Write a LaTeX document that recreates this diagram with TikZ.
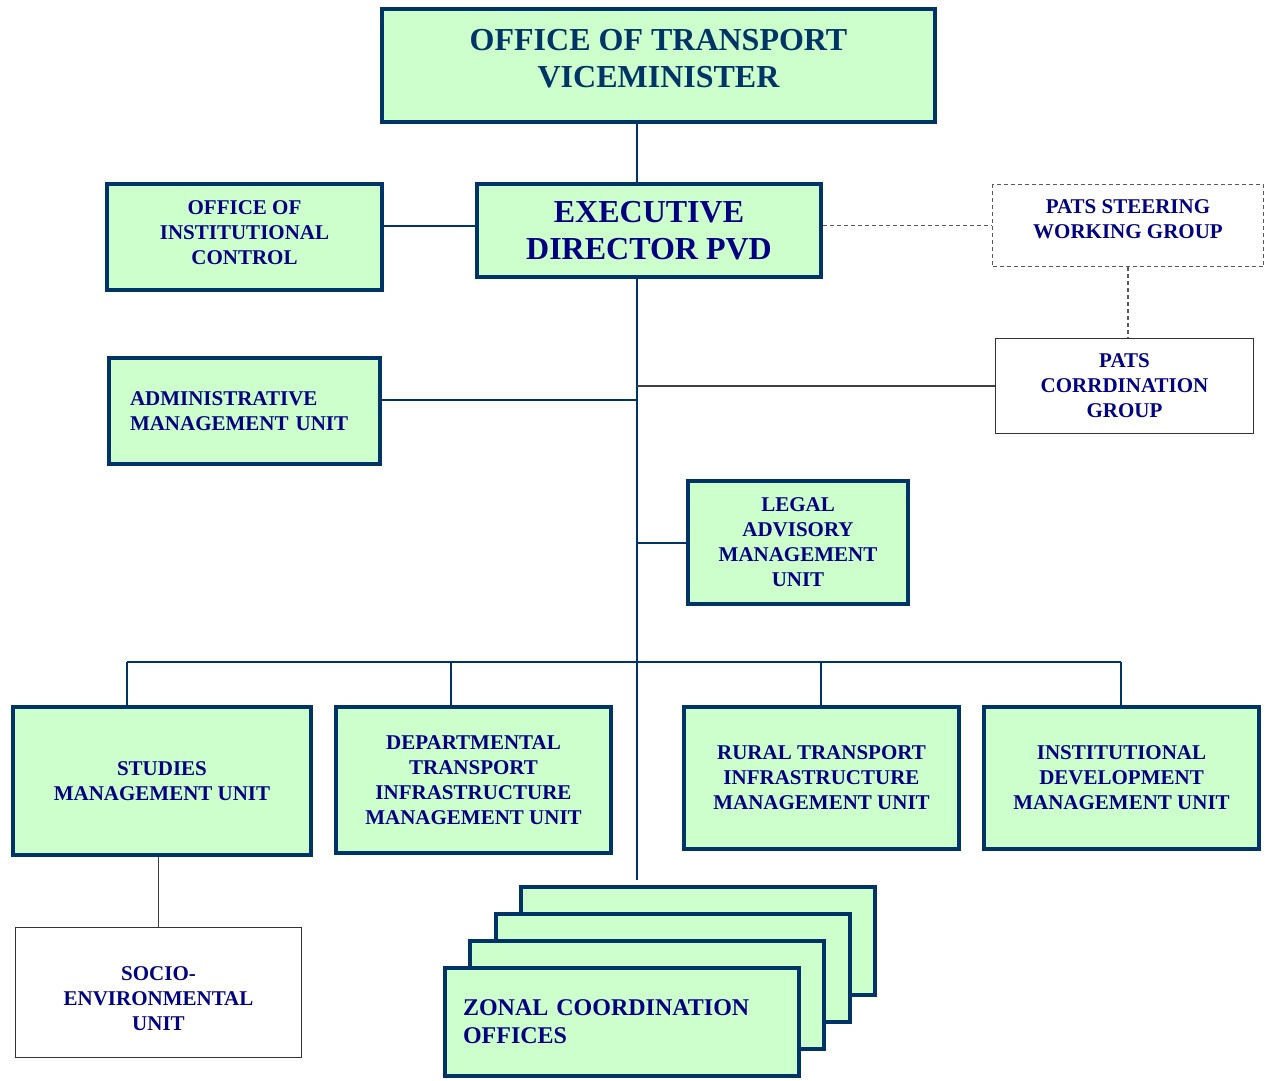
\documentclass[tikz,border=0pt]{standalone}
\usepackage{fontspec}
\setmainfont{Liberation Serif}
\definecolor{boxfill}{HTML}{CCFFCC}
\definecolor{boxline}{HTML}{003366}
\definecolor{unittext}{HTML}{000080}
\definecolor{toptext}{HTML}{003366}
\newcommand{\unitfont}{\bfseries\fontsize{21}{25}\selectfont}
\newcommand{\bigfont}{\bfseries\fontsize{32}{37}\selectfont}
\tikzstyle{unit} = [rectangle, draw=boxline, line width=4pt, fill=boxfill,
    text=unittext, align=center, font=\unitfont, inner sep=0pt]
\tikzstyle{plainunit} = [rectangle, draw=black!80, line width=1.3pt, fill=white,
    text=unittext, align=center, font=\unitfont, inner sep=0pt]
\tikzstyle{boxlabel} = [align=center, inner sep=0pt, text=unittext, font=\unitfont]
\tikzstyle{link} = [draw=boxline, line width=2pt]
\tikzstyle{thinlink} = [draw=black!75, line width=1.3pt]
\tikzstyle{dashlink} = [draw=black!65, line width=1.3pt, dash pattern=on 4pt off 3pt]

\begin{document}
\begin{tikzpicture}[x=1pt, y=-1pt]
  \useasboundingbox (0,0) rectangle (1265,1080);
  % top of the chart
  \node [unit, minimum width=553, minimum height=113] (vice) at (658.5,65.5) {};
  \node [boxlabel, font=\bigfont, text=toptext] (vice text) at ([yshift=7pt]vice.center)
    {OFFICE OF TRANSPORT\\VICEMINISTER};
  \node [unit, font=\bigfont, minimum width=344, minimum height=93] (exec) at (649,230.5)
    {EXECUTIVE\\DIRECTOR PVD};
  \node [unit, minimum width=275, minimum height=106] (oic) at (244.5,237) {};
  \node [boxlabel] (oic text) at ([yshift=4pt]oic.center)
    {OFFICE OF\\INSTITUTIONAL\\CONTROL};
  \node [plainunit, draw=black!65, dash pattern=on 4pt off 3pt,
    minimum width=271, minimum height=82] (steer) at (1128,225.5) {};
  \node [boxlabel] (steer text) at ([yshift=6pt]steer.center)
    {PATS STEERING\\WORKING GROUP};
  \node [plainunit, minimum width=258, minimum height=95] (coord) at (1124.5,386)
    {PATS\\CORRDINATION\\GROUP};
  \node [unit, align=left, text width=229, inner xsep=21pt,
    minimum width=271, minimum height=106] (admin) at (244.5,411)
    {ADMINISTRATIVE\\MANAGEMENT UNIT};
  \node [unit, minimum width=220, minimum height=123] (legal) at (798,542.5)
    {LEGAL\\ADVISORY\\MANAGEMENT\\UNIT};
  % units
  \node [unit, minimum width=298, minimum height=148] (studies) at (162,781)
    {STUDIES\\MANAGEMENT UNIT};
  \node [unit, minimum width=275, minimum height=146] (dept) at (473.5,780)
    {DEPARTMENTAL\\TRANSPORT\\INFRASTRUCTURE\\MANAGEMENT UNIT};
  \node [unit, minimum width=275, minimum height=142] (rural) at (821.5,778)
    {RURAL TRANSPORT\\INFRASTRUCTURE\\MANAGEMENT UNIT};
  \node [unit, minimum width=275, minimum height=142] (instdev) at (1121.5,778)
    {INSTITUTIONAL\\DEVELOPMENT\\MANAGEMENT UNIT};
  \node [plainunit, minimum width=286, minimum height=130] (socio) at (158.5,992.5) {};
  \node [boxlabel] (socio text) at ([yshift=-6pt]socio.center)
    {SOCIO-\\ENVIRONMENTAL\\UNIT};
  % stack of zonal offices
  \foreach \k in {3,2,1}
    \node [unit, minimum width=354, minimum height=108] (zonal\k)
      at (622+25.3*\k, 1022-27*\k) {};
  \node [unit, align=left, font=\bfseries\fontsize{24}{28}\selectfont,
    text width=318, inner xsep=18pt, minimum width=354, minimum height=108]
    (zonal) at (622,1022) {ZONAL COORDINATION\\OFFICES};
  % connectors
  \coordinate (spine) at (636.5,880);
  \coordinate (oic joint) at (0,226);
  \coordinate (admin joint) at (636.5,400);
  \coordinate (drop1) at (127,662);
  \coordinate (drop2) at (451,662);
  \coordinate (drop3) at (821,662);
  \coordinate (drop4) at (1121,662);
  \path [link] (vice.south -| spine) -- (exec.north -| spine);
  \path [link] (exec.south -| spine) -- (spine);
  \path [link] (oic joint -| oic.east) -- (oic joint -| exec.west);
  \path [dashlink] (exec.east |- steer.west) -- (steer.west);
  \path [dashlink] (steer.south) -- (steer.south |- coord.north);
  \path [thinlink] (coord.west -| spine) -- (coord.west);
  \path [link] (admin joint -| admin.east) -- (admin joint);
  \path [link] (legal.west -| spine) -- (legal.west);
  \path [link] (drop1) -- (drop4);
  \path [link] (drop1) -- (drop1 |- studies.north);
  \path [link] (drop2) -- (drop2 |- dept.north);
  \path [link] (drop3) -- (drop3 |- rural.north);
  \path [link] (drop4) -- (drop4 |- instdev.north);
  \path [thinlink] (studies.south -| socio.north) -- (socio.north);
\end{tikzpicture}
\end{document}
